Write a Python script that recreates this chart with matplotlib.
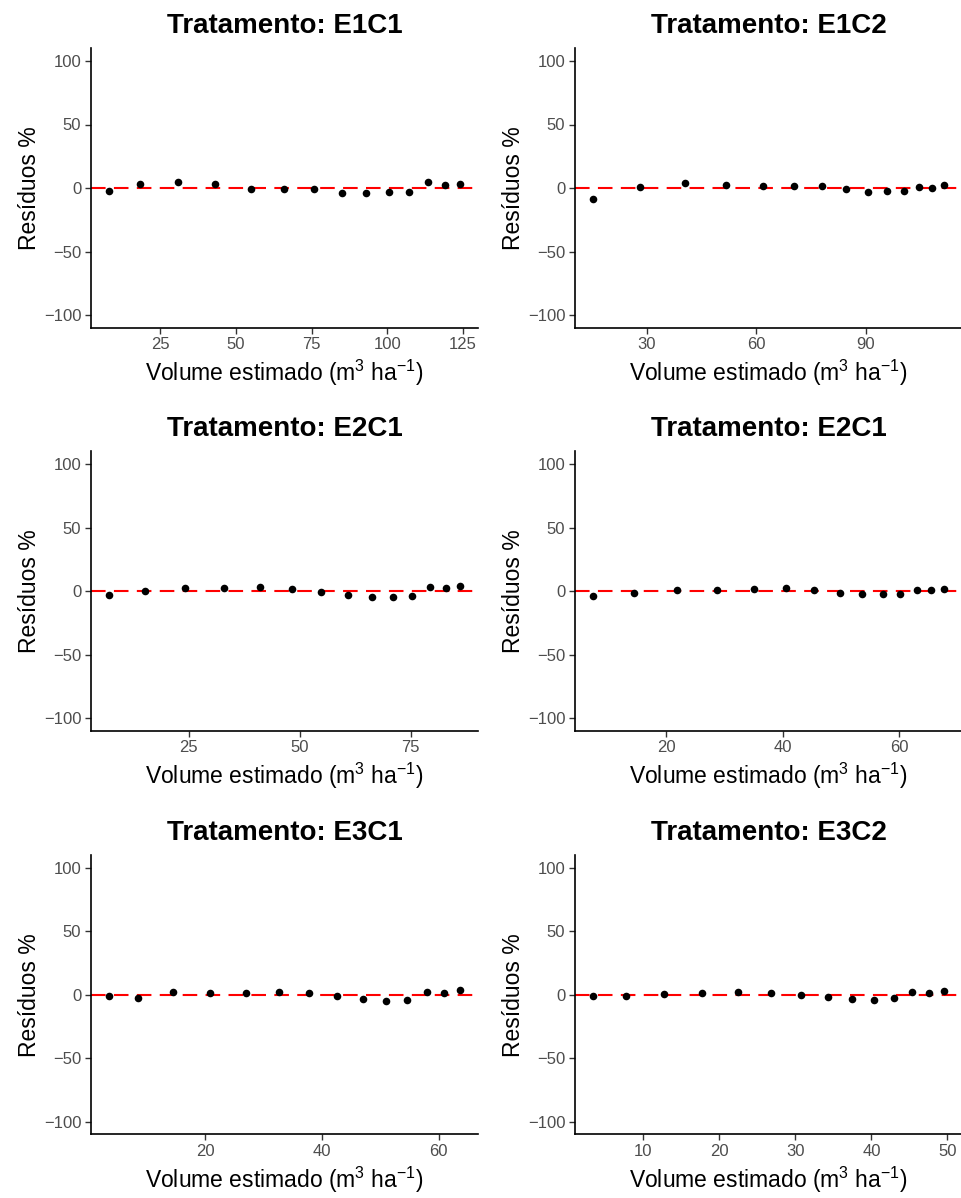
import matplotlib
matplotlib.use('Agg')
import matplotlib.pyplot as plt

plt.rcParams['font.family'] = ['Liberation Sans', 'DejaVu Sans']
plt.rcParams['mathtext.fontset'] = 'custom'
plt.rcParams['mathtext.rm'] = 'Liberation Sans'
plt.rcParams['mathtext.it'] = 'Liberation Sans'
plt.rcParams['mathtext.default'] = 'regular'

# Residuals (%) against estimated volume for each treatment
titles = ['E1C1', 'E1C2', 'E2C1', 'E2C1', 'E3C1', 'E3C2']

e1c1_x = [7.9, 18.4, 30.7, 43.2, 54.9, 65.9, 75.8, 84.9, 92.9, 100.5, 107.3, 113.6, 119.1, 124.2]
e1c1_y = [-2.4, 3.1, 5.0, 2.9, -0.8, -0.8, -1.0, -3.7, -3.7, -2.9, -3.1, 4.7, 2.4, 3.1]

e1c2_x = [15.1, 28.0, 40.5, 51.7, 61.7, 70.2, 77.9, 84.6, 90.5, 95.7, 100.3, 104.5, 108.2, 111.5]
e1c2_y = [-8.9, 1.0, 3.7, 2.1, 1.3, 1.8, 1.3, -1.0, -2.9, -2.4, -2.6, 1.0, 0.0, 2.4]

e2c1a_x = [7.0, 15.3, 24.2, 32.9, 41.1, 48.3, 54.9, 60.9, 66.3, 71.0, 75.4, 79.3, 82.9, 86.2]
e2c1a_y = [-3.4, 0.0, 2.1, 2.6, 2.9, 1.6, -0.8, -3.4, -5.0, -5.0, -3.9, 2.9, 2.1, 3.9]

e2c1b_x = [7.3, 14.5, 21.8, 28.7, 35.0, 40.5, 45.4, 49.8, 53.6, 57.2, 60.2, 63.1, 65.5, 67.8]
e2c1b_y = [-3.9, -1.3, 0.8, 1.0, 1.8, 2.1, 0.8, -1.3, -2.6, -2.6, -2.1, 1.0, 0.5, 1.3]

e3c1_x = [3.5, 8.6, 14.6, 20.9, 27.0, 32.6, 37.8, 42.6, 47.0, 50.9, 54.6, 57.9, 60.9, 63.7]
e3c1_y = [-1.0, -2.4, 2.1, 1.6, 1.6, 1.8, 1.0, -1.0, -3.4, -4.7, -4.2, 2.4, 1.6, 3.4]

e3c2_x = [3.35, 7.7, 12.7, 17.7, 22.4, 26.8, 30.7, 34.3, 37.4, 40.4, 43.0, 45.4, 47.6, 49.6]
e3c2_y = [-0.8, -0.8, 0.8, 1.6, 2.1, 1.3, 0.0, -2.1, -3.4, -3.9, -2.4, 2.1, 1.6, 2.6]

xs = [e1c1_x, e1c2_x, e2c1a_x, e2c1b_x, e3c1_x, e3c2_x]
ys = [e1c1_y, e1c2_y, e2c1a_y, e2c1b_y, e3c1_y, e3c2_y]
xticks = [[25, 50, 75, 100, 125], [30, 60, 90], [25, 50, 75],
          [20, 40, 60], [20, 40, 60], [10, 20, 30, 40, 50]]
yticks = [-100, -50, 0, 50, 100]

W, H = 962, 1198
fig = plt.figure(figsize=(W / 100, H / 100), dpi=100)

lefts = [91, 575]
tops = [48.3, 451.3, 855]
aw, ah = 387, 279.4

for i in range(6):
    r, c = divmod(i, 2)
    ax = fig.add_axes([lefts[c] / W, 1 - (tops[r] + ah) / H, aw / W, ah / H])
    x, y = xs[i], ys[i]
    rng = max(x) - min(x)
    ax.set_xlim(min(x) - 0.05 * rng, max(x) + 0.05 * rng)
    ax.set_ylim(-110, 110)

    ax.axhline(0, color='#FF0000', linewidth=1.5, dashes=(7, 4), zorder=1)
    ax.scatter(x, y, s=30, color='black', zorder=3, linewidths=0)

    ax.set_xticks(xticks[i])
    ax.set_yticks(yticks)
    ax.tick_params(labelsize=12, labelcolor='#4D4D4D', color='#333333',
                   length=4, width=1, pad=3)
    for side in ['top', 'right']:
        ax.spines[side].set_visible(False)
    for side in ['left', 'bottom']:
        ax.spines[side].set_linewidth(1.2)
        ax.spines[side].set_color('black')

    ax.set_title('Tratamento: ' + titles[i], fontsize=20, fontweight='bold', pad=11)
    ax.set_xlabel('Volume estimado (m$^{3}$ ha$^{-1}$)', fontsize=16.5, labelpad=4)
    ax.set_ylabel('Resíduos %', fontsize=16.5, labelpad=2)

plt.savefig('out.png', dpi=100)
